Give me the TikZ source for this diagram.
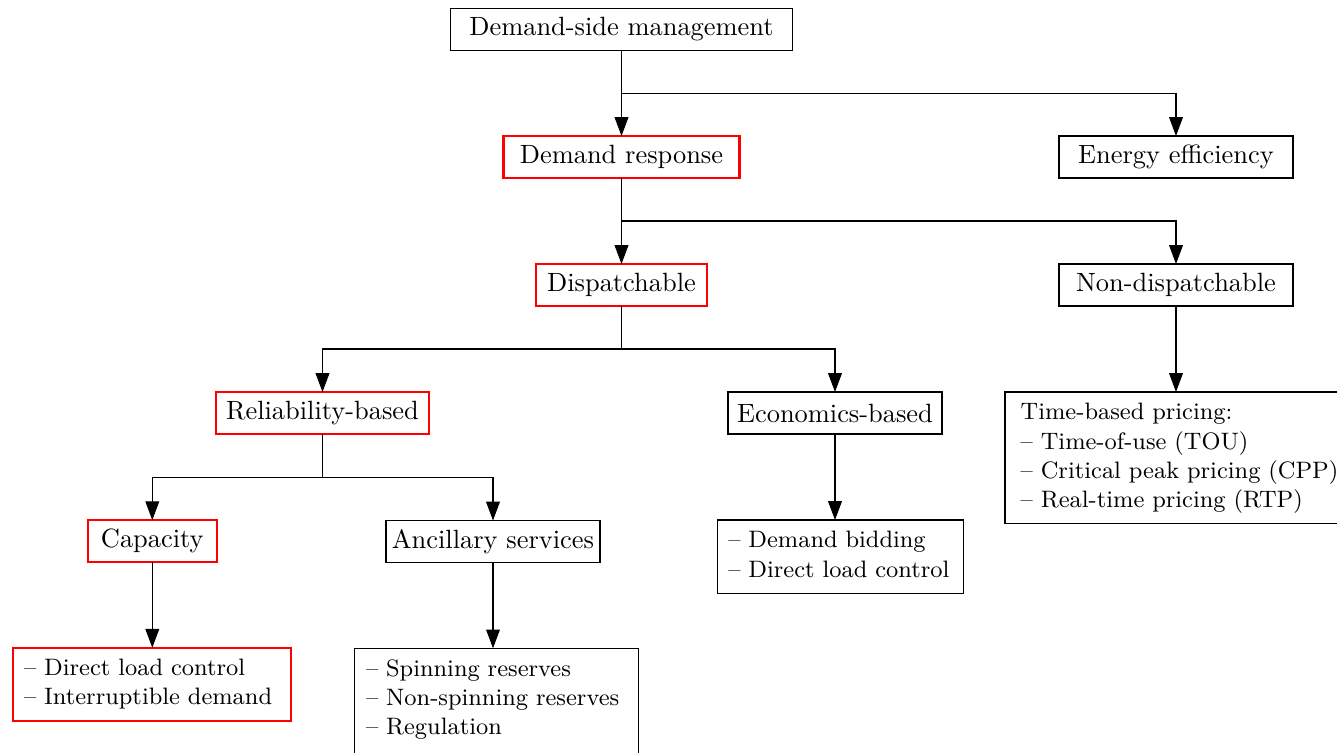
\documentclass[tikz,border=0pt]{standalone}
\usetikzlibrary{arrows.meta,calc}
\def\PX{0.3786pt}
\newcommand\itm[1]{\mbox{\strut-- #1}}
\begin{document}
\begin{tikzpicture}[x=\PX,y=-\PX,
  every node/.style={outer sep=0pt},
  box/.style={draw, line width=0.4pt, minimum height=42*\PX, inner sep=0pt,
              font=\fontsize{10}{12}\selectfont},
  hl/.style={draw=red, line width=0.8pt},
  lst/.style={draw, line width=0.4pt, align=left, anchor=north west, inner ysep=2.9pt,
              font=\small},
  arr/.style={line width=0.4pt, -{Triangle[length=7.1pt,width=5.2pt]}},
  con/.style={line width=0.4pt}]
\useasboundingbox (0,0) rectangle (1337,753);
\clip (0,0) rectangle (1337,753);
% level nodes
\node[box, minimum width=342*\PX] (dsm) at (621.5,29.2) {Demand-side management};
\node[box, hl, minimum width=236*\PX] (dr) at (621.5,157) {Demand response};
\node[box, minimum width=234*\PX] (ee) at (1176,157) {Energy efficiency};
\node[box, hl, minimum width=171*\PX] (disp) at (621.5,285) {Dispatchable};
\node[box, minimum width=234*\PX] (nd) at (1176,285) {Non-dispatchable};
\node[box, hl, minimum width=213*\PX] (rel) at (322.5,413) {Reliability-based};
\node[box, minimum width=214*\PX] (eco) at (835,413) {Economics-based};
\node[box, hl, minimum width=128.7*\PX] (cap) at (152.3,541.2) {Capacity};
\node[box, minimum width=214*\PX] (anc) at (493,541.5) {Ancillary services};
% list boxes
\node[lst, text width=330*\PX, inner xsep=15.7*\PX] (tb) at (1005,392)
  {\mbox{\strut Time-based pricing:}\\\itm{Time-of-use (TOU)}\\\itm{Critical peak pricing (CPP)}\\\itm{Real-time pricing (RTP)}};
\node[lst, text width=224*\PX, inner xsep=11*\PX] (ecobox) at (717.3,520)
  {\itm{Demand bidding}\\\itm{Direct load control}};
\node[lst, hl, text width=256*\PX, inner xsep=10.7*\PX] (capbox) at (13.3,647.7)
  {\itm{Direct load control}\\\itm{Interruptible demand}};
\node[lst, text width=261*\PX, inner xsep=11.3*\PX] (ancbox) at (354.7,648.3)
  {\itm{Spinning reserves}\\\itm{Non-spinning reserves}\\\itm{Regulation}\\\strut};
% junctions
\coordinate (j1) at ($(dsm.south)!0.5!(dr.north)$);
\coordinate (j2) at ($(dr.south)!0.5!(disp.north)$);
\coordinate (j3) at ($(disp.south)!0.5!(disp.south |- rel.north)$);
\coordinate (j4) at ($(rel.south)!0.5!(rel.south |- cap.north)$);
% connectors
\draw[arr] (dsm.south) -- (dr.north);
\draw[arr] (j1) -| (ee.north);
\draw[arr] (dr.south) -- (disp.north);
\draw[arr] (j2) -| (nd.north);
\draw[con] (disp.south) -- (j3);
\draw[arr] (j3) -| (rel.north);
\draw[arr] (j3) -| (eco.north);
\draw[con] (rel.south) -- (j4);
\draw[arr] (j4) -| (cap.north);
\draw[arr] (j4) -| (anc.north);
\draw[arr] (nd.south) -- (nd.south |- tb.north);
\draw[arr] (eco.south) -- (eco.south |- ecobox.north);
\draw[arr] (cap.south) -- (cap.south |- capbox.north);
\draw[arr] (anc.south) -- (anc.south |- ancbox.north);
\end{tikzpicture}
\end{document}
